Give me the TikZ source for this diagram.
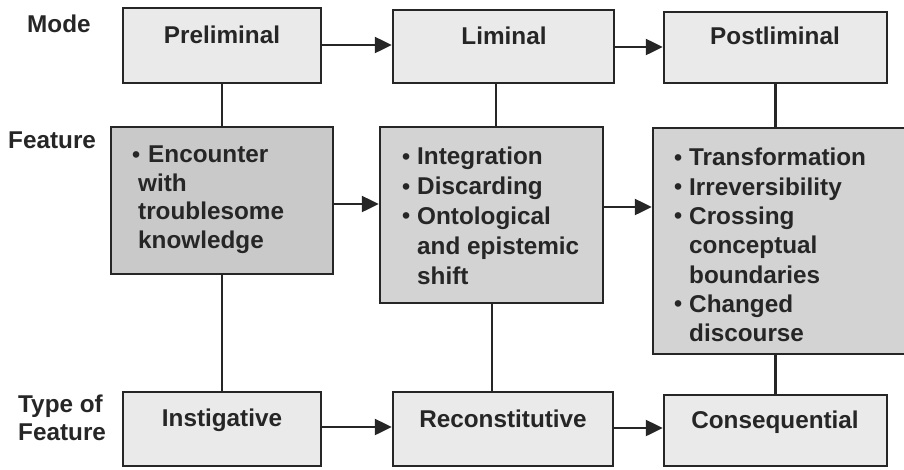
\documentclass[tikz,border=0pt]{standalone}
\usepackage{fontspec}
\setmainfont{Liberation Sans}
\usetikzlibrary{arrows.meta}
\definecolor{lightbox}{HTML}{EAEAEA}
\definecolor{midbox}{HTML}{D3D3D3}
\definecolor{darkbox}{HTML}{C9C9C9}
\definecolor{ink}{HTML}{262626}
\newcommand{\bul}[1]{\makebox[#1][l]{\raisebox{0.5pt}{\fontsize{23}{23}\selectfont •}}}
\tikzset{
  box/.style={draw=ink, line width=2.5pt, inner sep=0pt},
  lightb/.style={box, fill=lightbox},
  midb/.style={box, fill=midbox},
  darkb/.style={box, fill=darkbox},
  txt/.style={inner sep=0pt, text=ink, font=\fontsize{24.3}{29.3}\selectfont\bfseries},
  conn/.style={draw=ink, line width=2.5pt},
  arr/.style={conn, -{Triangle[length=17pt,width=16pt]}}
}
\begin{document}
\begin{tikzpicture}[x=1pt,y=-1pt]
\useasboundingbox (0,0) rectangle (904,469);
% boxes
\node[lightb, minimum width=198pt, minimum height=75pt] (pre) at (222,45.5) {};
\node[lightb, minimum width=221pt, minimum height=73pt] (lim) at (503.5,46.5) {};
\node[lightb, minimum width=223pt, minimum height=71pt] (post) at (775.5,47.5) {};
\node[darkb, minimum width=222pt, minimum height=147pt] (f1) at (222,200.5) {};
\node[midb, minimum width=223pt, minimum height=176pt] (f2) at (491.5,215) {};
\node[midb, minimum width=257pt, minimum height=226pt] (f3) at (781.5,241) {};
\node[lightb, minimum width=198pt, minimum height=74pt] (ins) at (222,429) {};
\node[lightb, minimum width=220pt, minimum height=74pt] (rec) at (503,429) {};
\node[lightb, minimum width=223pt, minimum height=71pt] (con) at (775.5,430.5) {};
% side labels
\node[txt, anchor=base west] (lmode) at (27,32) {Mode};
\node[txt, anchor=base west] (lfeat) at (8,148) {Feature};
\node[txt, anchor=base west] (ltype1) at (18,412) {Type of};
\node[txt, anchor=base west] (ltype2) at (18,440) {Feature};
% box titles
\node[txt, anchor=base] (tpre) at (222,43.5) {Preliminal};
\node[txt, anchor=base] (tlim) at (504,44) {Liminal};
\node[txt, anchor=base] (tpost) at (775,44) {Postliminal};
\node[txt, anchor=base] (tins) at (222,426) {Instigative};
\node[txt, anchor=base] (trec) at (503,427) {Reconstitutive};
\node[txt, anchor=base] (tcon) at (775,428) {Consequential};
% feature texts
\node[txt, anchor=north west, align=left, font=\fontsize{24.3}{28.5}\selectfont\bfseries] (x1) at (132,146)
  {\bul{16pt}Encounter\\\hspace*{6pt}with\\\hspace*{6pt}troublesome\\\hspace*{6pt}knowledge};
\node[txt, anchor=north west, align=left, font=\fontsize{24.3}{29.8}\selectfont\bfseries] (x2) at (402,147)
  {\bul{15pt}Integration\\\bul{15pt}Discarding\\\bul{15pt}Ontological\\\hspace*{15pt}and epistemic\\\hspace*{15pt}shift};
\node[txt, anchor=north west, align=left] (x3) at (674,148)
  {\bul{15pt}Transformation\\\bul{15pt}Irreversibility\\\bul{15pt}Crossing\\\hspace*{15pt}conceptual\\\hspace*{15pt}boundaries\\\bul{15pt}Changed\\\hspace*{15pt}discourse};
% helper coordinates
\coordinate (r1) at (0,45);
\coordinate (r1b) at (0,47);
\coordinate (r2) at (0,204);
\coordinate (r2b) at (0,207);
\coordinate (r3) at (0,427);
\coordinate (r3b) at (0,428);
\coordinate (c2) at (496,0);
\coordinate (c2b) at (492,0);
% horizontal arrows
\draw[arr] (pre.east |- r1) -- (lim.west |- r1);
\draw[arr] (lim.east |- r1b) -- (post.west |- r1b);
\draw[arr] (f1.east |- r2) -- (f2.west |- r2);
\draw[arr] (f2.east |- r2b) -- (f3.west |- r2b);
\draw[arr] (ins.east |- r3) -- (rec.west |- r3);
\draw[arr] (rec.east |- r3b) -- (con.west |- r3b);
% vertical connectors
\draw[conn] (pre.south) -- (f1.north -| pre.south);
\draw[conn] (f1.south) -- (ins.north);
\draw[conn] (lim.south -| c2) -- (f2.north -| c2);
\draw[conn] (f2.south -| c2b) -- (rec.north -| c2b);
\draw[conn] (post.south) -- (f3.north -| post.south);
\draw[conn] (f3.south -| con.north) -- (con.north);
\end{tikzpicture}
\end{document}
